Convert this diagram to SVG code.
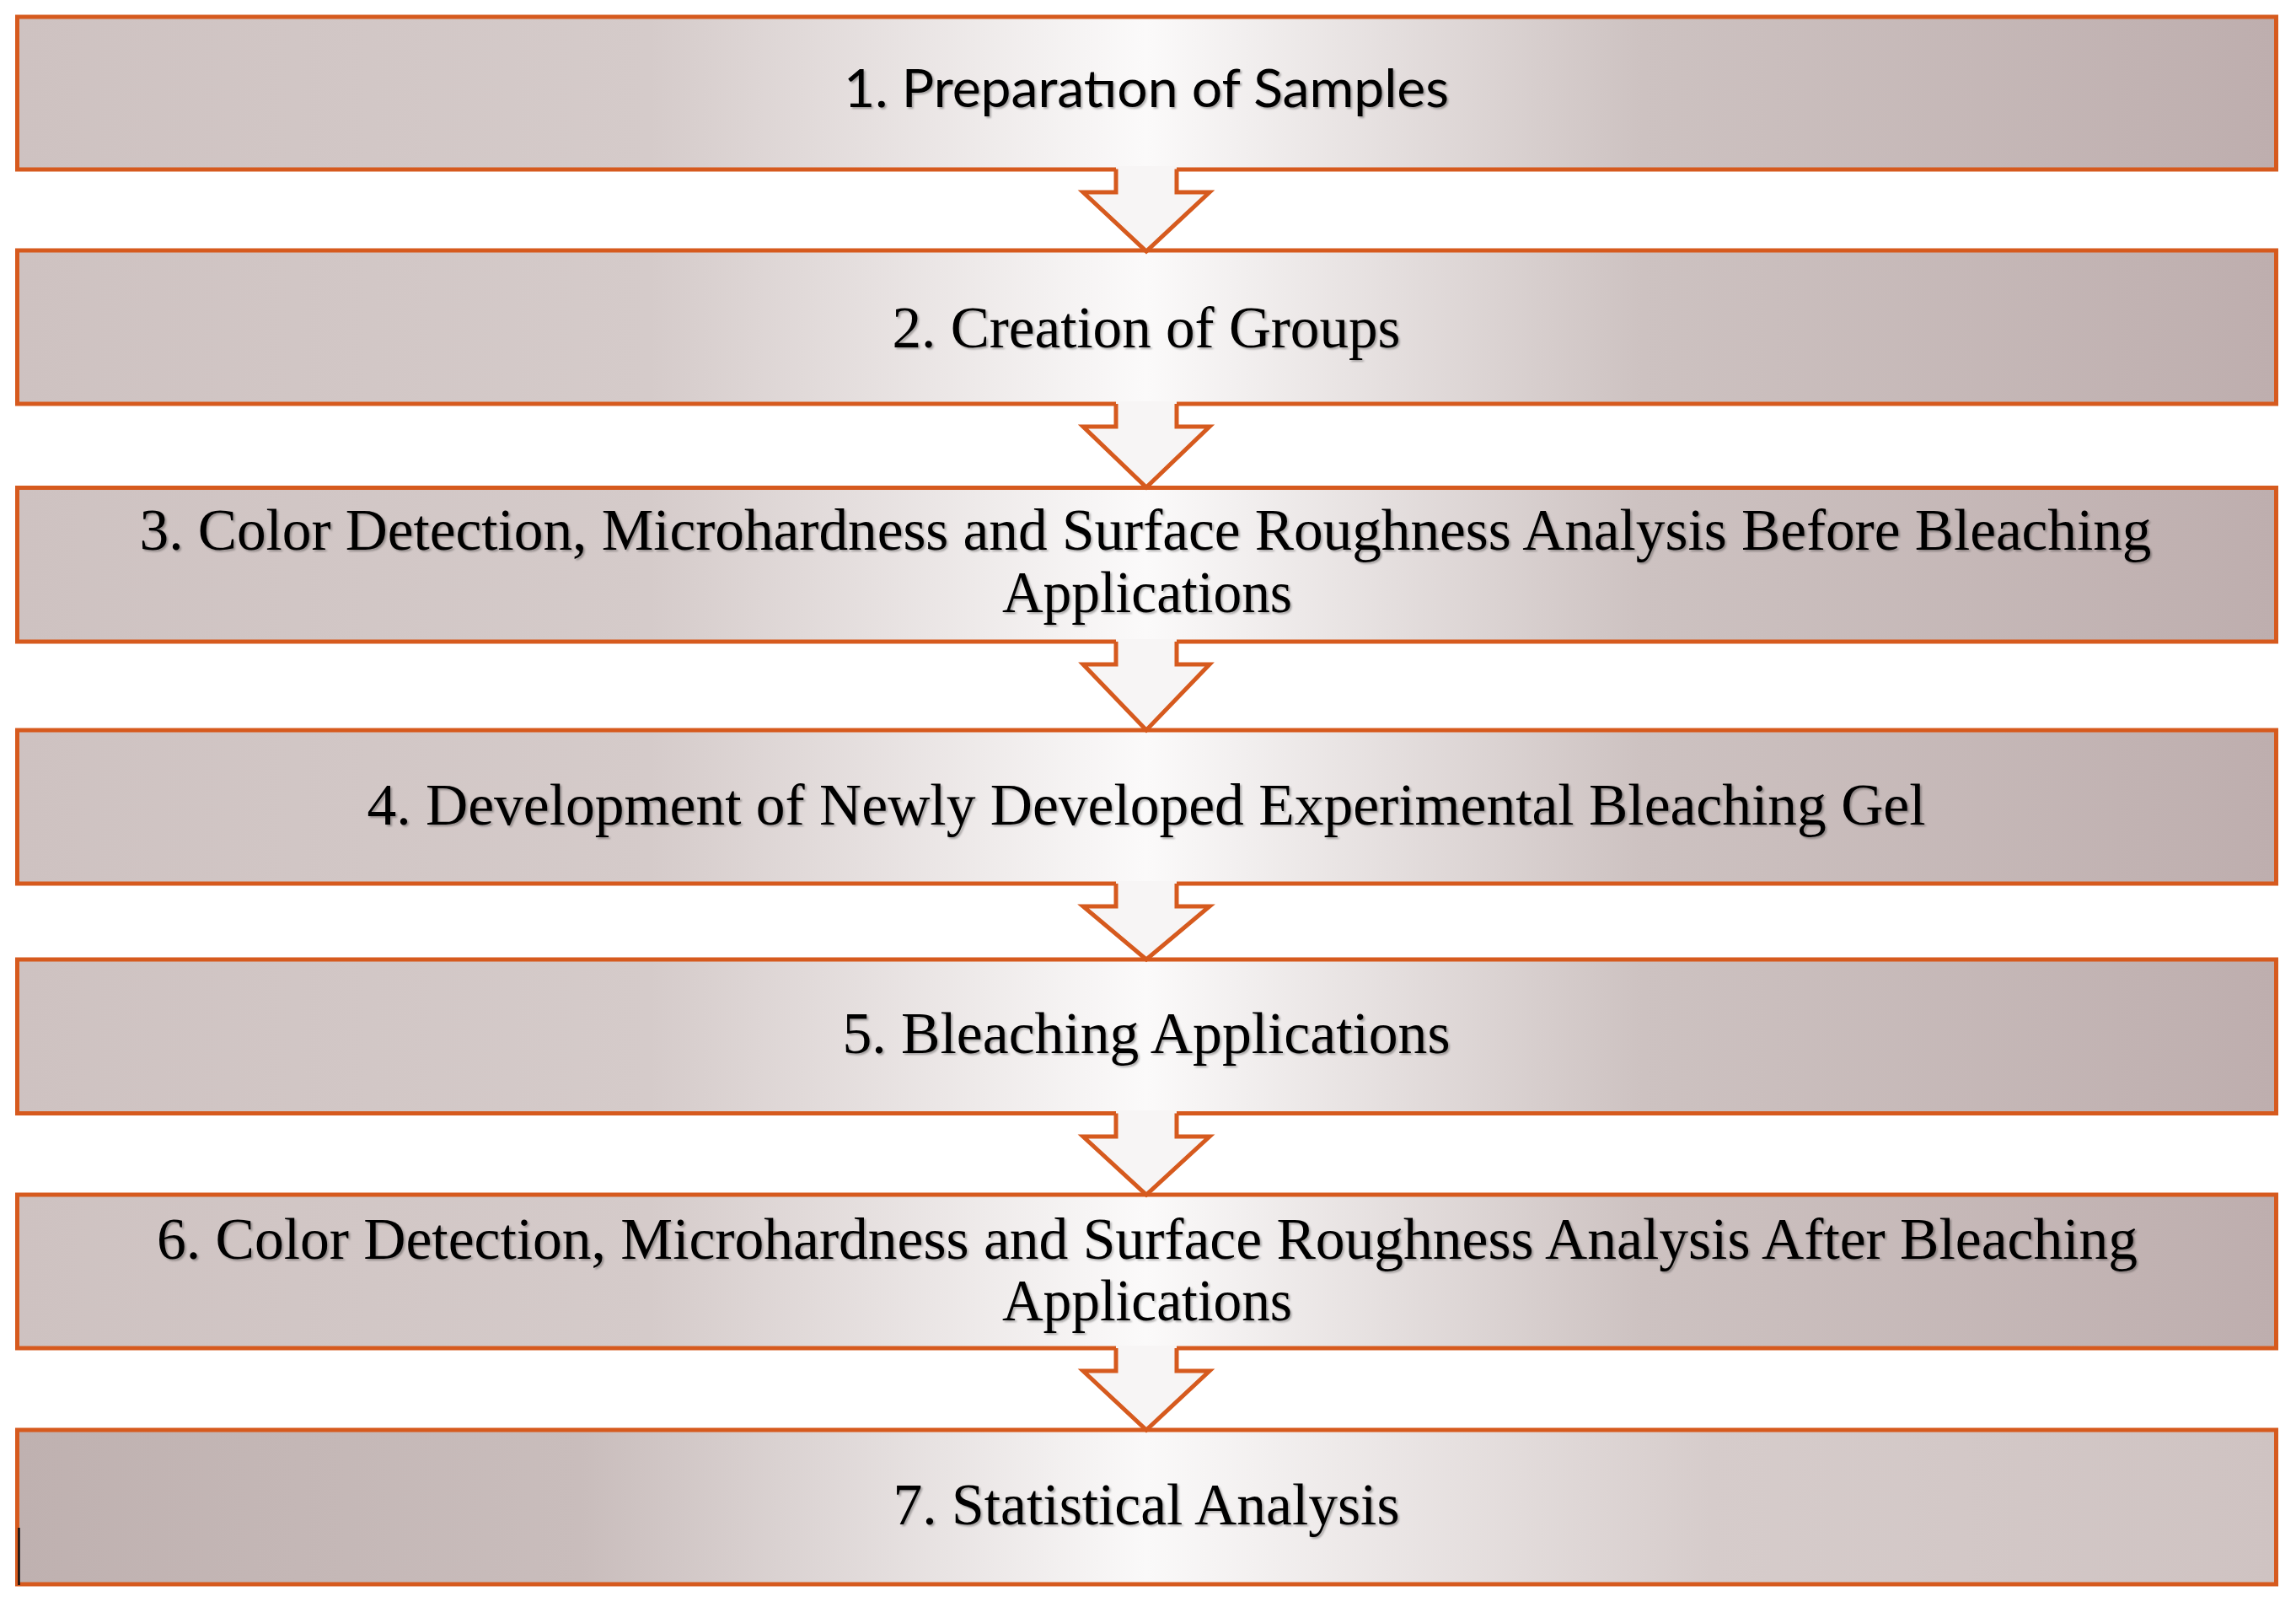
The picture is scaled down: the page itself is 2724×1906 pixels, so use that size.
<svg xmlns="http://www.w3.org/2000/svg" width="2724" height="1906" viewBox="0 0 2724 1906">
<defs>
<linearGradient id="g" gradientUnits="userSpaceOnUse" x1="20" y1="0" x2="2700" y2="0">
<stop offset="0" stop-color="#CEC2C1"/>
<stop offset="0.28" stop-color="#D5CBCA"/>
<stop offset="0.5" stop-color="#FBFAFA"/>
<stop offset="0.72" stop-color="#CDC2C1"/>
<stop offset="1" stop-color="#BEAEAE"/>
</linearGradient>
<linearGradient id="g2" gradientUnits="userSpaceOnUse" x1="20" y1="0" x2="2700" y2="0">
<stop offset="0" stop-color="#BFB1B0"/>
<stop offset="0.25" stop-color="#C9BDBC"/>
<stop offset="0.5" stop-color="#FAF9F9"/>
<stop offset="0.75" stop-color="#D6CCCB"/>
<stop offset="1" stop-color="#CFC3C2"/>
</linearGradient>
<filter id="sh" x="-5%" y="-30%" width="110%" height="160%">
<feDropShadow dx="2" dy="2" stdDeviation="1.2" flood-color="#000" flood-opacity="0.3"/>
</filter>
</defs>
<style>
.box{fill:url(#g);stroke:#D65A1E;stroke-width:5}
.box7{fill:url(#g2);stroke:#D65A1E;stroke-width:5}
.t{font-family:"Liberation Serif","Times New Roman",serif;font-size:69px;fill:#000;text-anchor:middle;filter:url(#sh)}
.s{font-family:Lato,"Open Sans","Liberation Sans",sans-serif;font-size:62px;fill:#000;text-anchor:middle;filter:url(#sh)}
.af{fill:#F7F5F5;stroke:none}
.as{fill:none;stroke:#D65A1E;stroke-width:5;stroke-linejoin:miter}
</style>
<rect width="2724" height="1906" fill="#FFFFFF"/>
<g id="node1"><rect class="box" x="20.5" y="20" width="2680" height="181"/>
<text class="s" x="1360" y="127" textLength="718" lengthAdjust="spacingAndGlyphs">1. Preparatıon of Samples</text></g>
<g id="node2"><rect class="box" x="20.5" y="297" width="2680" height="182"/>
<text class="t" x="1360" y="412" textLength="603" lengthAdjust="spacingAndGlyphs">2. Creation of Groups</text></g>
<g id="node3"><rect class="box" x="20.5" y="578.5" width="2680" height="182.5"/>
<text class="t" x="1359" y="652" textLength="2387" lengthAdjust="spacingAndGlyphs">3. Color Detection, Microhardness and Surface Roughness Analysis Before Bleaching</text>
<text class="t" x="1361" y="726" textLength="344" lengthAdjust="spacingAndGlyphs">Applications</text></g>
<g id="node4"><rect class="box" x="20.5" y="866" width="2680" height="182"/>
<text class="t" x="1360" y="978" textLength="1849" lengthAdjust="spacingAndGlyphs">4. Development of Newly Developed Experimental Bleaching Gel</text></g>
<g id="node5"><rect class="box" x="20.5" y="1138" width="2680" height="182.5"/>
<text class="t" x="1360" y="1249" textLength="721" lengthAdjust="spacingAndGlyphs">5. Bleaching Applications</text></g>
<g id="node6"><rect class="box" x="20.5" y="1417" width="2680" height="182"/>
<text class="t" x="1361" y="1493" textLength="2350" lengthAdjust="spacingAndGlyphs">6. Color Detection, Microhardness and Surface Roughness Analysis After Bleaching</text>
<text class="t" x="1361" y="1566" textLength="344" lengthAdjust="spacingAndGlyphs">Applications</text></g>
<g id="node7"><rect class="box7" x="20.5" y="1696" width="2680" height="183"/>
<text class="t" x="1360" y="1808" textLength="601" lengthAdjust="spacingAndGlyphs">7. Statistical Analysis</text>
<line x1="22.5" y1="1812" x2="22.5" y2="1880" stroke="#111" stroke-width="2.5"/></g>
<g id="connectors">
<g><path class="af" d="M1324,197 L1324,228 L1285,228 L1360,298 L1435,228 L1396,228 L1396,197 Z"/>
<path class="as" d="M1324,200.5 L1324,228 L1285,228 L1360,298 L1435,228 L1396,228 L1396,200.5"/></g>
<g><path class="af" d="M1324,476 L1324,506 L1285,506 L1360,578 L1435,506 L1396,506 L1396,476 Z"/>
<path class="as" d="M1324,479 L1324,506 L1285,506 L1360,578 L1435,506 L1396,506 L1396,479"/></g>
<g><path class="af" d="M1324,758 L1324,788 L1285,788 L1360,866 L1435,788 L1396,788 L1396,758 Z"/>
<path class="as" d="M1324,761 L1324,788 L1285,788 L1360,866 L1435,788 L1396,788 L1396,761"/></g>
<g><path class="af" d="M1324,1045 L1324,1075 L1285,1075 L1360,1138 L1435,1075 L1396,1075 L1396,1045 Z"/>
<path class="as" d="M1324,1048 L1324,1075 L1285,1075 L1360,1138 L1435,1075 L1396,1075 L1396,1048"/></g>
<g><path class="af" d="M1324,1317 L1324,1348 L1285,1348 L1360,1417 L1435,1348 L1396,1348 L1396,1317 Z"/>
<path class="as" d="M1324,1320.5 L1324,1348 L1285,1348 L1360,1417 L1435,1348 L1396,1348 L1396,1320.5"/></g>
<g><path class="af" d="M1324,1596 L1324,1626 L1285,1626 L1360,1696 L1435,1626 L1396,1626 L1396,1596 Z"/>
<path class="as" d="M1324,1599 L1324,1626 L1285,1626 L1360,1696 L1435,1626 L1396,1626 L1396,1599"/></g>
</g>
</svg>
